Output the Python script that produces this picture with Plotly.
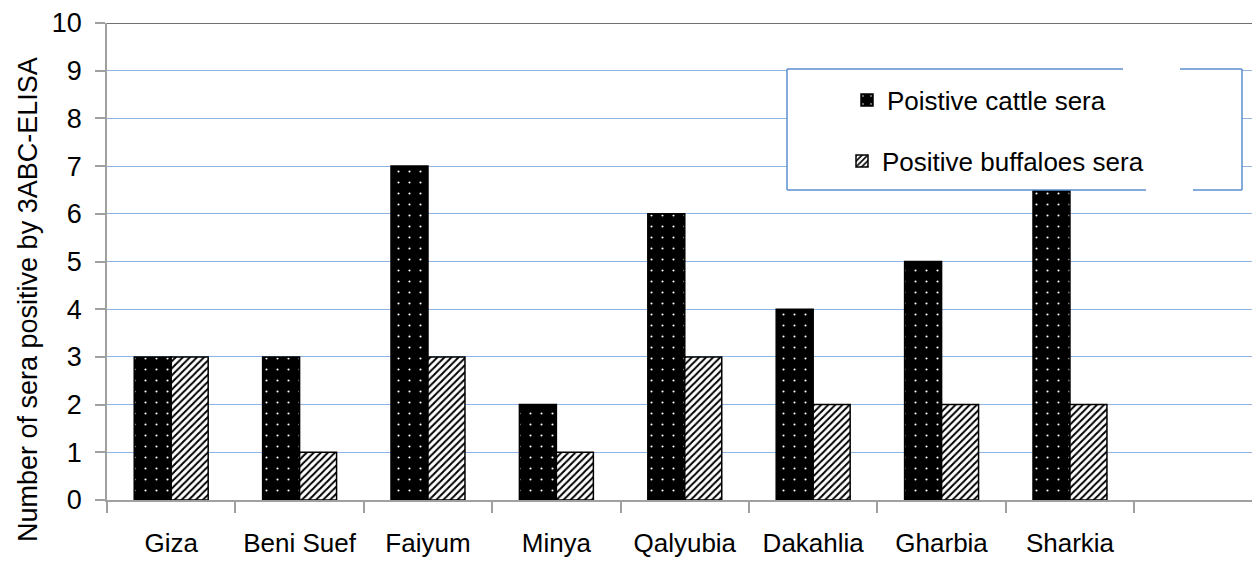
import plotly.graph_objects as go

categories = ["Giza", "Beni Suef", "Faiyum", "Minya", "Qalyubia", "Dakahlia", "Gharbia", "Sharkia"]
cattle = [3, 3, 7, 2, 6, 4, 5, 8]
buffaloes = [3, 1, 3, 1, 3, 2, 2, 2]
all_slots = categories + [" "]
y_ticks = list(range(0, 11))

OFF = 8  # page body margin
W, H = 1260 - OFF, 567 - OFF
L, T = 107 - OFF, 23 - OFF
PB = 500 - OFF
B = H - PB
PW = W - L
PH = PB - T

def px(xp):
    return (xp - OFF - L) / PW

def py(yp):
    return (PB - (yp - OFF)) / PH

FONT = "Liberation Sans, Arial, sans-serif"

fig = go.Figure()
fig.add_trace(go.Bar(
    x=categories, y=cattle, name="Poistive cattle sera",
    marker=dict(color="black", line=dict(color="black", width=1.5),
                pattern=dict(shape=".", fgcolor="white", bgcolor="black",
                             size=11, solidity=0.03, fillmode="replace")),
    legend="legend", showlegend=True,
))
fig.add_trace(go.Bar(
    x=categories, y=buffaloes, name="Positive buffaloes sera",
    marker=dict(color="white", line=dict(color="black", width=1.5),
                pattern=dict(shape="/", fgcolor="black", bgcolor="white",
                             size=5, solidity=0.4, fillmode="replace")),
    legend="legend2", showlegend=True,
))

shapes = []
shapes.append(dict(type="line", xref="paper", yref="y", x0=0, x1=1, y0=10, y1=10,
                   line=dict(color="#404040", width=1.5), layer="above"))
shapes.append(dict(type="rect", xref="paper", yref="paper",
                   x0=px(787), x1=px(1242), y0=py(190), y1=py(69),
                   fillcolor="white", line=dict(width=0), layer="above"))
bc = "#5B8FD0"
segs = [
    (787, 69, 1123, 69), (1180, 69, 1242, 69),
    (787, 190, 1146, 190), (1193, 190, 1242, 190),
    (787, 69, 787, 190), (1242, 69, 1242, 190),
]
for x0, y0, x1, y1 in segs:
    shapes.append(dict(type="line", xref="paper", yref="paper",
                       x0=px(x0), x1=px(x1), y0=py(y0), y1=py(y1),
                       line=dict(color=bc, width=1.5), layer="above"))

fig.update_layout(
    width=W, height=H,
    margin=dict(l=L, r=0, t=T, b=B, autoexpand=False),
    paper_bgcolor="white", plot_bgcolor="white",
    showlegend=True,
    barmode="group", bargap=0.424, bargroupgap=0,
    font=dict(family=FONT, size=26, color="#000000"),
    shapes=shapes,
    legend=dict(x=px(847), y=py(100), xanchor="left", yanchor="middle",
                bgcolor="rgba(0,0,0,0)", borderwidth=0,
                font=dict(family=FONT, size=26, color="#000000")),
    legend2=dict(x=px(842), y=py(161), xanchor="left", yanchor="middle",
                 bgcolor="rgba(0,0,0,0)", borderwidth=0,
                 font=dict(family=FONT, size=26, color="#000000")),
    xaxis=dict(type="category", categoryorder="array", categoryarray=all_slots,
               range=[-0.5, 8.48], showgrid=False, showline=True, automargin=False,
               linecolor="#A0A0A0", linewidth=1.5,
               ticks="outside", tickson="boundaries", ticklen=11,
               tickcolor="#A0A0A0", tickwidth=1.5,
               tickfont=dict(family=FONT, size=26, color="#000000"),
               ticklabelstandoff=19, zeroline=False),
    yaxis=dict(range=[0, 10], tickvals=y_ticks, showgrid=True, automargin=False,
               gridcolor="#8EB4E3", gridwidth=1.2,
               showline=True, linecolor="#A0A0A0", linewidth=1.5,
               ticks="outside", ticklen=10, tickcolor="#A0A0A0", tickwidth=1.5,
               tickfont=dict(family=FONT, size=27, color="#000000"),
               ticklabelstandoff=8, zeroline=False),
    annotations=[dict(text="Number of sera positive by 3ABC-ELISA",
                      xref="paper", yref="paper", x=px(28), y=py(300),
                      xanchor="center", yanchor="middle", textangle=-90,
                      showarrow=False,
                      font=dict(family=FONT, size=27, color="#000000"))],
)

fig.write_html("out.html")
